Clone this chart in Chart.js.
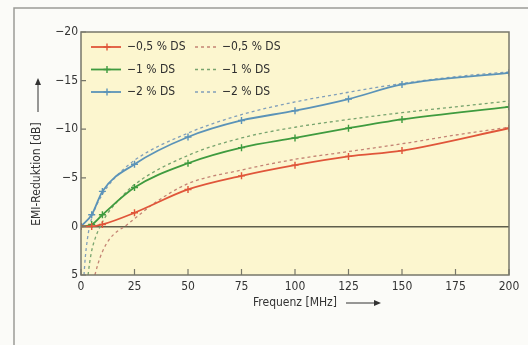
<!DOCTYPE html>
<html>
<head>
<meta charset="utf-8">
<script src="https://cdn.jsdelivr.net/npm/chart.js@4.4.1/dist/chart.umd.min.js"></script>
<style>
  html, body { margin: 0; padding: 0; background: #f7f7f4; }
  #wrap { width: 528px; height: 345px; }
</style>
</head>
<body>
<div id="wrap"><canvas id="c" width="528" height="345"></canvas></div>
<script>
// ---- data ----
const freqMeasured = [0, 5, 10, 25, 50, 75, 100, 125, 150, 200];
const red05 = [0, 0, -0.2, -1.4, -3.8, -5.2, -6.3, -7.2, -7.8, -10.1];
const green1 = [0, -0.2, -1.2, -4.0, -6.5, -8.1, -9.1, -10.1, -11.0, -12.3];
const blue2 = [0, -1.2, -3.6, -6.4, -9.2, -10.9, -11.9, -13.1, -14.6, -15.8];

const freqFitRed = [6.5, 8, 10, 13, 17, 20.5, 25, 35, 50, 75, 100, 125, 150, 175, 200];
const fitRed05 = [5, 3.8, 2.6, 1.4, 0.5, 0, -0.8, -2.5, -4.4, -5.8, -6.9, -7.7, -8.5, -9.4, -10.2];
const freqFitGreen = [3.3, 4, 5, 7, 9, 12, 18, 25, 50, 75, 100, 125, 150, 175, 200];
const fitGreen1 = [5, 3.8, 2.5, 1.0, 0, -1.2, -2.8, -4.3, -7.3, -9.1, -10.2, -11.0, -11.7, -12.3, -12.9];
const freqFitBlue = [1.4, 2, 3, 4, 6, 10, 15, 25, 50, 75, 100, 125, 150, 175, 200];
const fitBlue2 = [5, 3.2, 1.3, 0, -1.5, -3.3, -4.8, -6.8, -9.6, -11.5, -12.8, -13.8, -14.7, -15.4, -15.9];

const seriesLabels = ['\u22120,5 % DS', '\u22121 % DS', '\u22122 % DS'];
const xTicks = [0, 25, 50, 75, 100, 125, 150, 175, 200];
const yTicks = [-20, -15, -10, -5, 0, 5];
const xTitle = 'Frequenz [MHz]';
const yTitle = 'EMI-Reduktion [dB]';

const FONT = "'Liberation Sans Narrow', 'DejaVu Sans Condensed', 'Arial Narrow', sans-serif";
const solidColors = ['#e0563a', '#3f9b3f', '#5b93b8'];
const dashColors = ['#c48474', '#78a46e', '#819fba'];

function pts(xs, ys) { return xs.map((x, i) => ({ x: x, y: ys[i] })); }

const solidStyle = (c) => ({
  borderColor: c, backgroundColor: c, borderWidth: 1.8, showLine: true,
  pointStyle: 'cross', pointRadius: 3.5, pointBorderWidth: 1.4, cubicInterpolationMode: 'monotone'
});
const dashStyle = (c) => ({
  borderColor: c, backgroundColor: c, borderWidth: 1.3, showLine: true,
  borderDash: [3, 3], pointRadius: 0, cubicInterpolationMode: 'monotone'
});

const datasets = [
  Object.assign({ label: seriesLabels[0], data: pts(freqMeasured, red05) }, solidStyle(solidColors[0])),
  Object.assign({ label: seriesLabels[0] + ' fit', data: pts(freqFitRed, fitRed05) }, dashStyle(dashColors[0])),
  Object.assign({ label: seriesLabels[1], data: pts(freqMeasured, green1) }, solidStyle(solidColors[1])),
  Object.assign({ label: seriesLabels[1] + ' fit', data: pts(freqFitGreen, fitGreen1) }, dashStyle(dashColors[1])),
  Object.assign({ label: seriesLabels[2], data: pts(freqMeasured, blue2) }, solidStyle(solidColors[2])),
  Object.assign({ label: seriesLabels[2] + ' fit', data: pts(freqFitBlue, fitBlue2) }, dashStyle(dashColors[2]))
];

const decor = {
  id: 'decor',
  beforeDraw(chart) {
    const ctx = chart.ctx, a = chart.chartArea;
    ctx.save();
    ctx.fillStyle = '#fbfbf8';
    ctx.fillRect(0, 0, chart.width, chart.height);
    ctx.strokeStyle = '#9c9c96';
    ctx.lineWidth = 1.5;
    ctx.beginPath();
    ctx.moveTo(14, chart.height); ctx.lineTo(14, 8); ctx.lineTo(chart.width, 8);
    ctx.stroke();
    ctx.fillStyle = '#fcf6cf';
    ctx.fillRect(a.left, a.top, a.right - a.left, a.bottom - a.top);
    ctx.restore();
  },
  afterDraw(chart) {
    const ctx = chart.ctx, a = chart.chartArea;
    const xs = chart.scales.x, ys = chart.scales.y;
    ctx.save();
    // frame
    ctx.strokeStyle = '#77776a';
    ctx.lineWidth = 1.5;
    ctx.strokeRect(a.left, a.top, a.right - a.left, a.bottom - a.top);
    // inward ticks
    ctx.lineWidth = 1.2;
    ctx.beginPath();
    xTicks.forEach(v => { const p = xs.getPixelForValue(v); ctx.moveTo(p, a.bottom); ctx.lineTo(p, a.bottom - 6); });
    yTicks.forEach(v => { const p = ys.getPixelForValue(v); ctx.moveTo(a.left, p); ctx.lineTo(a.left + 5, p); });
    ctx.stroke();
    // axis title arrows
    ctx.strokeStyle = '#333'; ctx.fillStyle = '#333'; ctx.lineWidth = 1;
    const ax = 38, ay0 = 112, ay1 = 78;
    ctx.beginPath(); ctx.moveTo(ax, ay0); ctx.lineTo(ax, ay1 + 6); ctx.stroke();
    ctx.beginPath(); ctx.moveTo(ax - 3, ay1 + 7); ctx.lineTo(ax + 3, ay1 + 7); ctx.lineTo(ax, ay1); ctx.closePath(); ctx.fill();
    const bx0 = 346, bx1 = 381, by = 303;
    ctx.beginPath(); ctx.moveTo(bx0, by); ctx.lineTo(bx1 - 6, by); ctx.stroke();
    ctx.beginPath(); ctx.moveTo(bx1 - 7, by - 3); ctx.lineTo(bx1 - 7, by + 3); ctx.lineTo(bx1, by); ctx.closePath(); ctx.fill();
    // legend
    ctx.font = '12px ' + FONT;
    ctx.textBaseline = 'middle';
    ctx.textAlign = 'left';
    const rowY = [47, 69.5, 92];
    seriesLabels.forEach((lab, i) => {
      const y = rowY[i];
      ctx.setLineDash([]);
      ctx.strokeStyle = solidColors[i]; ctx.lineWidth = 1.8;
      ctx.beginPath(); ctx.moveTo(91, y); ctx.lineTo(121, y); ctx.stroke();
      ctx.lineWidth = 1.4;
      ctx.beginPath(); ctx.moveTo(103.5, y); ctx.lineTo(110.5, y); ctx.moveTo(107, y - 3.5); ctx.lineTo(107, y + 3.5); ctx.stroke();
      ctx.fillStyle = '#2e2e2e';
      ctx.fillText(lab, 127, y);
      ctx.setLineDash([3, 3]);
      ctx.strokeStyle = dashColors[i]; ctx.lineWidth = 1.3;
      ctx.beginPath(); ctx.moveTo(195, y); ctx.lineTo(219, y); ctx.stroke();
      ctx.setLineDash([]);
      ctx.fillText(lab, 222, y);
    });
    ctx.restore();
  }
};

new Chart(document.getElementById('c'), {
  type: 'scatter',
  data: { datasets: datasets },
  plugins: [decor],
  options: {
    responsive: false,
    animation: false,
    devicePixelRatio: 1,
    layout: { padding: { left: 14, top: 32, right: 19, bottom: 30 } },
    plugins: { legend: { display: false }, tooltip: { enabled: false } },
    scales: {
      x: {
        type: 'linear', min: 0, max: 200,
        afterFit(s) { s.height = 40; },
        afterBuildTicks(s) { s.ticks = xTicks.map(v => ({ value: v })); },
        border: { display: false },
        grid: { display: false, drawTicks: false },
        ticks: { padding: 5, color: '#333', font: { family: FONT, size: 12 }, maxRotation: 0 },
        title: { display: true, text: xTitle, color: '#333', font: { family: FONT, size: 12 }, padding: { top: 0, bottom: 5 } }
      },
      y: {
        type: 'linear', min: -20, max: 5, reverse: true,
        afterFit(s) { s.width = 67; },
        afterBuildTicks(s) { s.ticks = yTicks.map(v => ({ value: v })); },
        border: { display: false },
        grid: {
          drawTicks: false,
          color: (c) => (c.tick && c.tick.value === 0 ? '#5e5e4c' : 'rgba(0,0,0,0)'),
          lineWidth: (c) => (c.tick && c.tick.value === 0 ? 1.6 : 0)
        },
        ticks: {
          padding: 3, color: '#333', font: { family: FONT, size: 12 },
          callback: (v) => (v < 0 ? '\u2212' + Math.abs(v) : String(v))
        },
        title: { display: true, text: yTitle + ' '.repeat(12), color: '#333', font: { family: FONT, size: 12 }, padding: { top: 16, bottom: 0 } }
      }
    }
  }
});
</script>
</body>
</html>
